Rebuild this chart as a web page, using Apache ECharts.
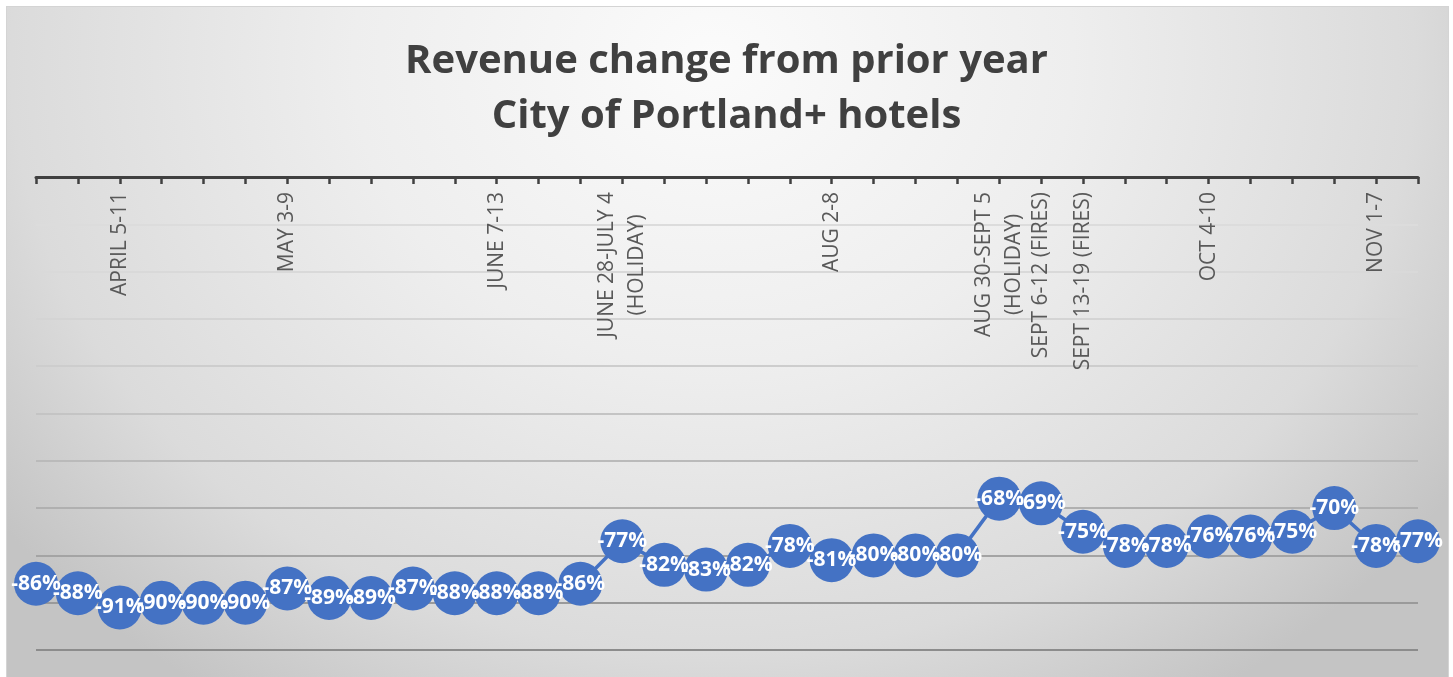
<!DOCTYPE html>
<html>
<head>
<meta charset="utf-8">
<title>Revenue change from prior year</title>
<script src="https://cdn.jsdelivr.net/npm/echarts@6/dist/echarts.min.js"></script>
<style>
  html, body { margin: 0; padding: 0; background: #fff; }
  /* 图表背景面板（渐变） */
  #panel {
    position: absolute; left: 6px; top: 6px; width: 1441px; height: 671px;
    border: 1px solid #d4d4d4; border-bottom: none;
    background: radial-gradient(900px 760px at 49% 8%, #fbfbfb 0%, #eeeeee 40%, #dbdbdb 78%, #c4c4c4 100%);
  }
  #chart { position: absolute; left: 0; top: 0; width: 1453px; height: 677px; }
</style>
</head>
<body>
<div id="panel"></div>
<div id="chart"></div>
<script>
// 周（2020）
const weeks = [
  'MAR 22-28', 'MAR 29-APR 4', 'APRIL 5-11', 'APR 12-18', 'APR 19-25', 'APR 26-MAY 2',
  'MAY 3-9', 'MAY 10-16', 'MAY 17-23', 'MAY 24-30', 'MAY 31-JUNE 6', 'JUNE 7-13',
  'JUNE 14-20', 'JUNE 21-27', 'JUNE 28-JULY 4 (HOLIDAY)', 'JULY 5-11', 'JULY 12-18',
  'JULY 19-25', 'JULY 26-AUG 1', 'AUG 2-8', 'AUG 9-15', 'AUG 16-22', 'AUG 23-29',
  'AUG 30-SEPT 5 (HOLIDAY)', 'SEPT 6-12 (FIRES)', 'SEPT 13-19 (FIRES)', 'SEPT 20-26',
  'SEPT 27-OCT 3', 'OCT 4-10', 'OCT 11-17', 'OCT 18-24', 'OCT 25-31', 'NOV 1-7', 'NOV 8-14'
]

// 轴上显示的标签（空 = 不显示）
const weekLabels = [
  '', '', 'APRIL 5-11', '', '', '',
  'MAY 3-9', '', '', '', '', 'JUNE 7-13',
  '', '', 'JUNE 28-JULY 4\n(HOLIDAY)', '', '',
  '', '', 'AUG 2-8', '', '', '',
  'AUG 30-SEPT 5\n(HOLIDAY)', 'SEPT 6-12 (FIRES)', 'SEPT 13-19 (FIRES)', '',
  '', 'OCT 4-10', '', '', '', 'NOV 1-7', ''
]

// 营收同比变化（%）
const revenueChange = [
  -86, -88, -91, -90, -90, -90, -87, -89, -89, -87, -88, -88, -88, -86,
  -77, -82, -83, -82, -78, -81, -80, -80, -80, -68, -69, -75, -78, -78,
  -76, -76, -75, -70, -78, -77
]

const titleLines = ['Revenue change from prior year', 'City of Portland+ hotels']

// 网格线颜色：从下往上逐渐变浅
const gridColors = ['#8c8c8c', '#9a9a9a', '#a4a4a4', '#b0b0b0', '#bababa', '#c4c4c4',
  '#cdcdcd', '#d4d4d4', '#d9d9d9', '#dcdcdc', '#dcdcdc']

const myChart = echarts.init(document.getElementById('chart'), null, { renderer: 'canvas' })

// 多行标签每行居中
const richLabel = s => s.split('\n').map(l => '{c|' + l + '}').join('\n')

myChart.setOption({
  animation: false,
  title: {
    text: titleLines.join('\n'),
    left: 'center',
    top: 29,
    textStyle: {
      fontFamily: 'Open Sans',
      fontWeight: 'bold',
      fontSize: 40,
      lineHeight: 55,
      color: '#404040'
    }
  },
  grid: { left: 36, right: 35, top: 177, bottom: 27, containLabel: false },
  xAxis: {
    type: 'category',
    position: 'top',
    boundaryGap: false,
    data: weeks,
    axisLine: { onZero: false, lineStyle: { color: '#404040', width: 3 } },
    axisTick: { show: true, inside: true, length: 7, interval: 0, lineStyle: { color: '#404040', width: 2.5 } },
    axisLabel: {
      inside: true,
      interval: 0,
      rotate: -90,
      margin: 15,
      fontFamily: 'Open Sans',
      fontSize: 21,
      color: '#595959',
      lineHeight: 30,
      formatter: (v, i) => weekLabels[i] ? richLabel(weekLabels[i]) : '',
      rich: { c: { align: 'center', fontFamily: 'Open Sans', fontSize: 21, color: '#595959', lineHeight: 30 } }
    },
    splitLine: { show: false }
  },
  yAxis: {
    type: 'value',
    min: -100,
    max: 0,
    interval: 10,
    axisLine: { show: false },
    axisTick: { show: false },
    axisLabel: { show: false },
    splitLine: { show: true, lineStyle: { color: gridColors, width: 2 } }
  },
  series: [{
    type: 'line',
    data: revenueChange,
    symbol: 'circle',
    symbolSize: 44,
    lineStyle: { color: '#4472C4', width: 3.5 },
    itemStyle: { color: '#4472C4' },
    label: {
      show: true,
      position: 'inside',
      formatter: p => p.value + '%',
      fontFamily: 'Open Sans',
      fontWeight: 'bold',
      fontSize: 21,
      color: '#ffffff'
    }
  }]
})
</script>
</body>
</html>
